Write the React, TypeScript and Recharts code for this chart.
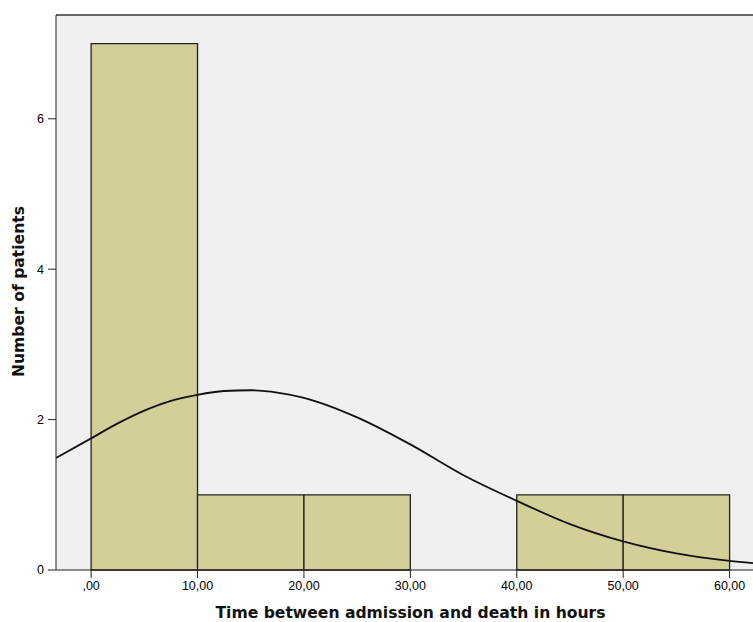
import {
  ComposedChart,
  Line,
  XAxis,
  YAxis,
  CartesianGrid,
  ReferenceArea,
  ReferenceLine,
  Label,
} from "recharts"

// histogram bins (hours) and counts
const binStart = [0, 10, 20, 30, 40, 50]
const binEnd = [10, 20, 30, 40, 50, 60]
const counts = [7, 1, 1, 0, 1, 1]

// normal curve
const curveX = [-3.3, 0, 2.5, 5, 7.5, 10, 12.5, 15, 17.5, 20, 25, 30, 35, 40, 45, 50, 55, 60, 62.2]
const curveY = [1.49, 1.75, 1.95, 2.12, 2.25, 2.33, 2.38, 2.39, 2.36, 2.29, 2.03, 1.67, 1.26, 0.92, 0.61, 0.38, 0.22, 0.12, 0.09]

const xTicks = [0, 10, 20, 30, 40, 50, 60]
const yTicks = [0, 2, 4, 6]
const xDomain = [-3.3, 62.2]
const yMax = 7.38

const curve = curveX.map((x, i) => ({ x, y: curveY[i] }))

const fmt = (v: number) => (v === 0 ? ",00" : v.toFixed(2).replace(".", ","))

const FONT = "'Liberation Sans', Arial, sans-serif"
const TITLE_FONT = "'DejaVu Sans', Verdana, sans-serif"
const titleStyle = { fontWeight: "bold", fontSize: 15.6, fill: "#111", fontFamily: TITLE_FONT }

export default function App() {
  return (
    <div style={{ position: "absolute", left: 0, top: 0 }}>
      <ComposedChart
        width={753}
        height={622}
        data={curve}
        margin={{ top: 15, right: 0, bottom: 0, left: 0 }}
      >
        <CartesianGrid fill="#f0f0f0" horizontal={false} vertical={false} />
        <XAxis
          dataKey="x"
          type="number"
          domain={xDomain}
          ticks={xTicks}
          allowDataOverflow
          tickFormatter={fmt}
          height={52}
          tickSize={8}
          tickMargin={3}
          stroke="#222"
          tick={{ fill: "#000", fontSize: 12.5, fontFamily: FONT }}
        >
          <Label
            content={({ viewBox }: any) => (
              <text
                x={viewBox.x + viewBox.width / 2 + 6}
                y={618}
                textAnchor="middle"
                style={titleStyle}
              >
                Time between admission and death in hours
              </text>
            )}
          />
        </XAxis>
        <YAxis
          type="number"
          domain={[0, yMax]}
          ticks={yTicks}
          allowDataOverflow
          width={56}
          tickSize={8}
          tickMargin={4}
          stroke="#222"
          tick={{ fill: "#000", fontSize: 12.5, fontFamily: FONT }}
        >
          <Label
            content={({ viewBox }: any) => {
              const cx = viewBox.x + 19
              const cy = viewBox.y + viewBox.height / 2 - 1
              return (
                <text
                  x={cx}
                  y={cy}
                  transform={`rotate(-90, ${cx}, ${cy})`}
                  textAnchor="middle"
                  dominantBaseline="central"
                  style={titleStyle}
                >
                  Number of patients
                </text>
              )
            }}
          />
        </YAxis>
        <ReferenceLine y={yMax} stroke="#333" strokeWidth={1.5} />
        {binStart.map((s, i) =>
          counts[i] > 0 ? (
            <ReferenceArea
              key={s}
              x1={s}
              x2={binEnd[i]}
              y1={0}
              y2={counts[i]}
              fill="#d3cf99"
              fillOpacity={1}
              stroke="#222"
              strokeWidth={1.3}
            />
          ) : null
        )}
        <Line
          type="monotone"
          dataKey="y"
          stroke="#111"
          strokeWidth={1.8}
          dot={false}
          activeDot={false}
          isAnimationActive={false}
        />
      </ComposedChart>
    </div>
  )
}
